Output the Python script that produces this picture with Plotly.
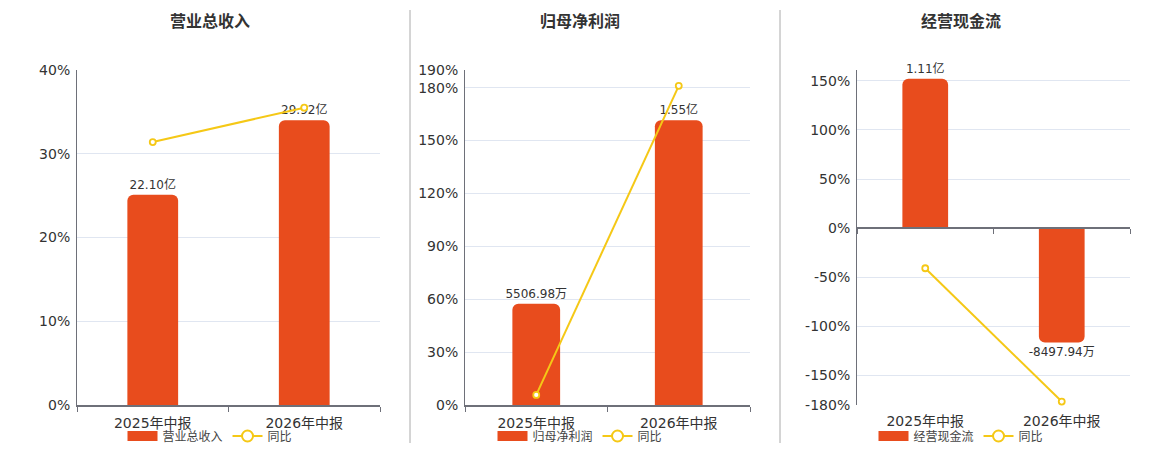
import plotly.graph_objects as go

# ---------------- data ----------------
categories = ["2025年中报", "2026年中报"]

titles = ["营业总收入", "归母净利润", "经营现金流"]

# values in 亿元
revenue = [22.10, 29.92]
net_profit = [0.550698, 1.55]
cash_flow = [1.11, -0.849794]

# year-on-year growth, %
revenue_yoy = [31.4, 35.5]
net_profit_yoy = [5.7, 181.0]
cash_flow_yoy = [-40.8, -176.5]

# percent axis ticks
ticks_1 = [0, 10, 20, 30, 40]
ticks_2 = [0, 30, 60, 90, 120, 150, 180, 190]
ticks_3 = [-180, -150, -100, -50, 0, 50, 100, 150, 161]
ticktext_3 = ["-180%", "-150%", "-100%", "-50%", "0%", "50%", "100%", "150%", ""]

# ---------------- style ----------------
BAR = "#E84C1D"
YEL = "#F5C816"
GRID = "#E0E6F1"
AXIS = "#6E7079"
TXT = "#333333"
FONT = "DejaVu Sans, Noto Sans CJK SC, sans-serif"
W, H = 1160, 450


def fmt(v):
    if abs(v) < 1:
        return f"{v * 1e4:.2f}万"
    return f"{v:.2f}亿"


def px(x):
    return x / W


def py(y):
    return 1 - y / H


panels = [
    dict(vals=revenue, yoy=revenue_yoy, dom=(77, 380), pct=(0, 40), ticks=ticks_1,
         ticktext=[f"{t}%" for t in ticks_1], bar_range=(0, 29.92 / 0.85), center=210),
    dict(vals=net_profit, yoy=net_profit_yoy, dom=(465, 750), pct=(0, 190), ticks=ticks_2,
         ticktext=[f"{t}%" for t in ticks_2], bar_range=(0, 1.55 / 0.85), center=580),
    dict(vals=cash_flow, yoy=cash_flow_yoy, dom=(857, 1130), pct=(-180, 161), ticks=ticks_3,
         ticktext=ticktext_3, bar_range=(-180 * 1.11 / 152, 161 * 1.11 / 152), center=961),
]

fig = go.Figure()
layout = dict(
    width=W, height=H, margin=dict(l=0, r=0, t=0, b=0, pad=0, autoexpand=False),
    paper_bgcolor="white", plot_bgcolor="white",
    font=dict(family=FONT, color=TXT),
    annotations=[], shapes=[],
)

y_dom = [py(405), py(70)]

for i, p in enumerate(panels):
    n = i + 1
    xa = "x" if n == 1 else f"x{n}"
    yb = "y" if n == 1 else f"y{n}"          # bar axis (hidden)
    yp = f"y{n + 3}"                          # percent axis (visible)
    leg = "legend" if n == 1 else f"legend{n}"

    fig.add_trace(go.Bar(
        x=categories, y=p["vals"], name=titles[i],
        text=[fmt(v) for v in p["vals"]], textposition="outside",
        textfont=dict(size=12, color=TXT, family=FONT),
        constraintext="none", cliponaxis=False,
        marker=dict(color=BAR, cornerradius=6, line=dict(width=0)),
        width=0.335, xaxis=xa, yaxis=yb, showlegend=False, hoverinfo="skip",
    ))
    # legend entry for the bars (wide swatch)
    fig.add_trace(go.Scatter(
        x=[None], y=[None], mode="lines", name=titles[i],
        line=dict(color=BAR, width=13),
        xaxis=xa, yaxis=yb, legend=leg, hoverinfo="skip",
    ))
    fig.add_trace(go.Scatter(
        x=categories, y=p["yoy"], mode="lines+markers", name="同比",
        line=dict(color=YEL, width=2),
        marker=dict(size=6, color="white", line=dict(color=YEL, width=1.8)),
        xaxis=xa, yaxis=yp, showlegend=False, cliponaxis=False, hoverinfo="skip",
    ))
    # legend entry with larger marker
    fig.add_trace(go.Scatter(
        x=[None], y=[None], mode="lines+markers", name="同比",
        line=dict(color=YEL, width=2),
        marker=dict(size=11, color="white", line=dict(color=YEL, width=2)),
        xaxis=xa, yaxis=yp, legend=leg, hoverinfo="skip",
    ))

    xkey = "xaxis" if n == 1 else f"xaxis{n}"
    ybkey = "yaxis" if n == 1 else f"yaxis{n}"
    ypkey = f"yaxis{n + 3}"
    dom = [px(p["dom"][0]), px(p["dom"][1])]

    if n < 3:
        layout[xkey] = dict(
            domain=dom, anchor=yb, type="category", categoryorder="array",
            categoryarray=categories, range=[-0.5, 1.5],
            showline=True, linecolor=AXIS, linewidth=2,
            ticks="outside", tickson="boundaries", ticklen=5, tickcolor=AXIS,
            ticklabelstandoff=4,
            tickfont=dict(size=14, color=TXT), showgrid=False, fixedrange=True,
        )
    else:
        layout[xkey] = dict(
            domain=dom, anchor=yb, type="category", categoryorder="array",
            categoryarray=categories, range=[-0.5, 1.5],
            showline=False, ticks="", ticklabelstandoff=6,
            tickfont=dict(size=14, color=TXT), showgrid=False, fixedrange=True,
        )
    layout[ybkey] = dict(domain=y_dom, anchor=xa, range=list(p["bar_range"]),
                         visible=False, fixedrange=True)
    layout[ypkey] = dict(
        overlaying=yb, anchor=xa, side="left", range=list(p["pct"]),
        tickmode="array", tickvals=p["ticks"], ticktext=p["ticktext"],
        showgrid=True, gridcolor=GRID, gridwidth=1, zeroline=False,
        showline=True, linecolor=AXIS, linewidth=1, ticks="",
        ticklabelstandoff=3,
        tickfont=dict(size=14, color=TXT), fixedrange=True,
    )

    layout[leg] = dict(
        orientation="h", xref="container", yref="container",
        x=px(p["center"]), xanchor="center",
        y=py(436), yanchor="middle", font=dict(size=12, color="#444", family=FONT),
        bgcolor="rgba(0,0,0,0)", itemwidth=30, tracegroupgap=0,
    )

    layout["annotations"].append(dict(
        text=f"<b>{titles[i]}</b>", x=px(p["center"]), y=py(22),
        xref="paper", yref="paper", xanchor="center", yanchor="middle",
        showarrow=False, font=dict(size=16, color=TXT, family=FONT),
    ))

# zero-positioned axis line for the cash-flow panel
fig.add_trace(go.Scatter(x=[None], y=[None], xaxis="x7", yaxis="y3",
                         showlegend=False, hoverinfo="skip"))
zero_frac = (0 - panels[2]["pct"][0]) / (panels[2]["pct"][1] - panels[2]["pct"][0])
layout["xaxis7"] = dict(
    overlaying="x3", anchor="free",
    position=y_dom[0] + zero_frac * (y_dom[1] - y_dom[0]),
    range=[-0.5, 1.5], tickmode="array", tickvals=[-0.5, 0.5, 1.5],
    showticklabels=False, ticks="outside", ticklen=5, tickcolor=AXIS,
    showline=True, linecolor=AXIS, linewidth=2, showgrid=False, zeroline=False,
    fixedrange=True,
)

# separators between panels
for xs in (410, 780):
    layout["shapes"].append(dict(
        type="line", xref="paper", yref="paper",
        x0=px(xs), x1=px(xs), y0=py(10), y1=py(443),
        line=dict(color="#AAAAAA", width=1),
    ))

fig.update_layout(**layout)
fig.write_html(
    "out.html",
    config={"displayModeBar": False},
    post_script="document.body.style.margin='0';document.body.style.padding='0';",
)
